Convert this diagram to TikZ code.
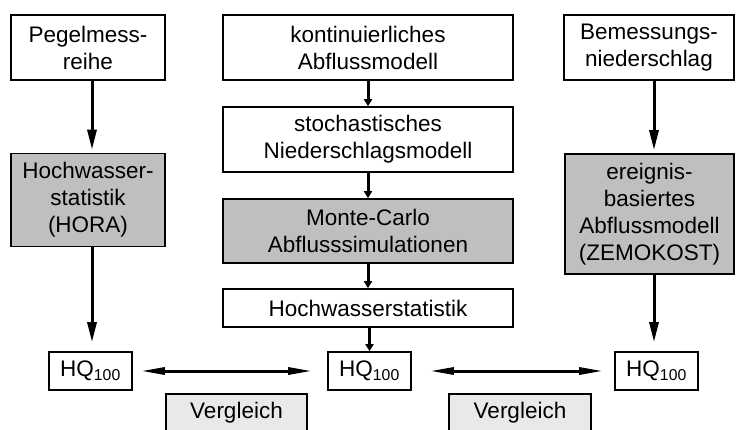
\documentclass[tikz,border=0pt]{standalone}
\usepackage{fontspec}
\setmainfont{Liberation Sans}
\usetikzlibrary{arrows.meta}
\begin{document}
\begin{tikzpicture}[x=1pt, y=-1pt,
        font=\fontsize{22.5}{27}\selectfont,
        box/.style={draw, line width=1.6pt, align=center, inner sep=0pt},
        dark/.style={box, fill=gray!50},
        light/.style={box, fill=gray!17},
        flow/.style={line width=3pt, -{Triangle[length=20pt, width=9pt]}},
        link/.style={line width=3pt, -{Triangle[length=7pt, width=8pt]}},
        both/.style={line width=3pt, {Triangle[length=24pt, width=7pt]}-{Triangle[length=24pt, width=7pt]}}]
        \useasboundingbox (0,0) rectangle (736,430);

        % Left column: gauge series
        \node[box, minimum width=154pt, minimum height=65pt] (peg) at (88,47.5) {Pegelmess-\\reihe};
        \node[dark, minimum width=154pt, minimum height=93pt] (hora) at (88,200) {Hochwasser-\\statistik\\(HORA)};
        \node[box, minimum width=83pt, minimum height=38pt] (hqL) at (90.5,371) {HQ\textsubscript{100}};

        % Middle column: continuous simulation
        \node[box, minimum width=290pt, minimum height=65pt] (kont) at (368,47.5) {kontinuierliches\\Abflussmodell};
        \node[box, minimum width=290pt, minimum height=65pt] (stoch) at (368,139.5) {stochastisches\\Niederschlagsmodell};
        \node[dark, minimum width=290pt, minimum height=64pt] (mc) at (368,231) {Monte-Carlo\\Abflusssimulationen};
        \node[box, minimum width=290pt, minimum height=38pt] (hws) at (368,308) {Hochwasserstatistik};
        \node[box, minimum width=83pt, minimum height=38pt] (hqM) at (369.5,371) {HQ\textsubscript{100}};

        % Right column: design rainfall
        \node[box, minimum width=170pt, minimum height=65pt] (bem) at (649,47.5) {Bemessungs-\\niederschlag};
        \node[dark, minimum width=169pt, minimum height=120pt] (zemo) at (649.5,214) {ereignis-\\basiertes\\Abflussmodell\\(ZEMOKOST)};
        \node[box, minimum width=83pt, minimum height=38pt] (hqR) at (656.5,371) {HQ\textsubscript{100}};

        % Comparison boxes
        \node[light, minimum width=141pt, minimum height=38pt] (vgl1) at (236.5,413) {Vergleich};
        \node[light, minimum width=142pt, minimum height=38pt] (vgl2) at (520,413) {Vergleich};

        % Arrows
        \draw[flow, shorten >=3pt] ([xshift=4pt]peg.south) -- ([xshift=4pt]hora.north);
        \draw[flow, shorten >=9pt] ([xshift=4pt]hora.south) -- ([xshift=4pt]hora.south |- hqL.north);
        \draw[flow, shorten >=3pt] ([xshift=5pt]bem.south) -- ([xshift=5pt]bem.south |- zemo.north);
        \draw[flow, shorten >=9pt] ([xshift=4.5pt]zemo.south) -- ([xshift=4.5pt]zemo.south |- hqR.north);

        \draw[link] (kont) -- (stoch);
        \draw[link] (stoch) -- (mc);
        \draw[link] (mc) -- (hws);
        \draw[link] (hws.south -| hqM) -- (hqM);

        \draw[both, shorten <=8pt, shorten >=15pt] (hqL) -- (hqM);
        \draw[both, shorten <=18pt, shorten >=11pt] (hqM) -- (hqR);
    \end{tikzpicture}
\end{document}
